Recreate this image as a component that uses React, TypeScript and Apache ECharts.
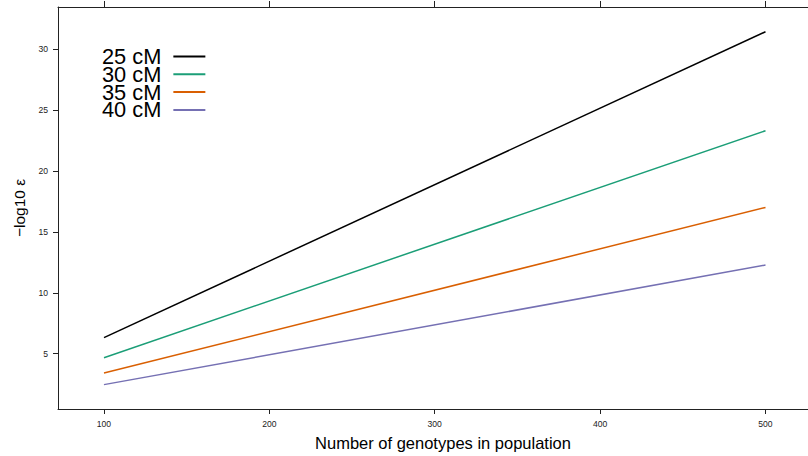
import React, { useEffect, useRef } from "react";
import * as echarts from "echarts";

const xValues = [100, 500];
const seriesNames = ["25 cM", "30 cM", "35 cM", "40 cM"];
const cm25 = [6.32, 31.42];
const cm30 = [4.67, 23.3];
const cm35 = [3.42, 17.0];
const cm40 = [2.46, 12.27];
const xTicks = [100, 200, 300, 400, 500];
const yTicks = [5, 10, 15, 20, 25, 30];
const colors = ["#000000", "#1B9E77", "#D95F02", "#7570B3"];

const FONT = "'Liberation Sans', Arial, Helvetica, sans-serif";

export default function App() {
  const ref = useRef<HTMLDivElement>(null);
  useEffect(() => {
    if (!ref.current) return;
    const chart = echarts.init(ref.current, undefined, { renderer: "svg" });
    const allSeries = [cm25, cm30, cm35, cm40];
    const tickStyle = { show: true, inside: false, length: 5, lineStyle: { color: "#222", width: 1 } };
    const X_MIN = 72.2;
    const X_MAX = 537.8;
    chart.setOption({
      animation: false,
      backgroundColor: "#ffffff",
      textStyle: { fontFamily: FONT },
      grid: { left: 58, top: 7, width: 770, height: 404, containLabel: false },
      legend: {
        left: 102,
        top: 45.5,
        padding: 0,
        orient: "vertical",
        align: "right",
        icon: "rect",
        itemWidth: 32,
        itemHeight: 2,
        itemGap: -4.2,
        data: seriesNames,
        textStyle: {
          fontSize: 21.8,
          color: "#000",
          fontFamily: FONT,
          padding: [0, 7, 0, 0],
        },
      },
      xAxis: [
        {
          type: "value",
          position: "bottom",
          min: X_MIN,
          max: X_MAX,
          name: "Number of genotypes in population",
          nameLocation: "middle",
          nameGap: 25,
          nameTextStyle: { fontSize: 16.5, color: "#000", fontFamily: FONT },
          axisLine: { show: true, lineStyle: { color: "#222", width: 1 } },
          axisTick: { ...tickStyle, customValues: xTicks },
          axisLabel: { customValues: xTicks, fontSize: 8.6, color: "#222", margin: 10, fontFamily: FONT },
          splitLine: { show: false },
        },
        {
          type: "value",
          position: "top",
          min: X_MIN,
          max: X_MAX,
          axisLine: { show: true, onZero: false, lineStyle: { color: "#222", width: 1 } },
          axisTick: { ...tickStyle, length: 6, customValues: xTicks },
          axisLabel: { show: false },
          splitLine: { show: false },
        },
      ],
      yAxis: [
        {
          type: "value",
          position: "left",
          min: 0.46,
          max: 33.45,
          name: "\u2212log10 \u03b5",
          nameLocation: "middle",
          nameGap: 30,
          nameRotate: 90,
          nameTextStyle: { fontSize: 15.5, color: "#000", fontFamily: FONT },
          axisLine: { show: true, onZero: false, lineStyle: { color: "#222", width: 1 } },
          axisTick: { ...tickStyle, customValues: yTicks },
          axisLabel: { customValues: yTicks, fontSize: 8.6, color: "#222", margin: 10, fontFamily: FONT },
          splitLine: { show: false },
        },
        {
          type: "value",
          position: "right",
          min: 0.46,
          max: 33.45,
          axisLine: { show: true, onZero: false, lineStyle: { color: "#222", width: 1 } },
          axisTick: { ...tickStyle, customValues: yTicks },
          axisLabel: { show: false },
          splitLine: { show: false },
        },
      ],
      series: seriesNames.map((name, i) => ({
        name,
        type: "line",
        xAxisIndex: 0,
        yAxisIndex: 0,
        symbol: "none",
        showSymbol: false,
        color: colors[i],
        lineStyle: { color: colors[i], width: 1.5 },
        data: xValues.map((x, j) => [x, allSeries[i][j]]),
      })),
    });
    return () => chart.dispose();
  }, []);
  return (
    <div
      ref={ref}
      style={{ position: "fixed", left: 0, top: 0, width: 840, height: 456, background: "#fff" }}
    />
  );
}
